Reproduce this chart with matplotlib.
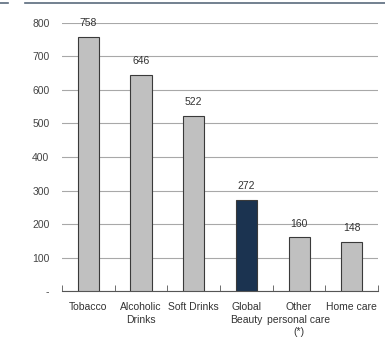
import matplotlib
matplotlib.use('Agg')
from matplotlib import pyplot as plt
import numpy as np

categories = ['Tobacco', 'Alcoholic\nDrinks', 'Soft Drinks', 'Global\nBeauty',
              'Other\npersonal care\n(*)', 'Home care']
values = [758, 646, 522, 272, 160, 148]
colors = ['#c0c0c0', '#c0c0c0', '#c0c0c0', '#1b3350', '#c0c0c0', '#c0c0c0']
yticks = [0, 100, 200, 300, 400, 500, 600, 700, 800]
ytick_labels = ['-', '100', '200', '300', '400', '500', '600', '700', '800']

plt.rcParams['font.family'] = ['Liberation Sans', 'DejaVu Sans']

fig = plt.figure(figsize=(3.85, 3.47), dpi=100)
ax = fig.add_axes([0.161, 0.161, 0.821, 0.773])

x = np.arange(len(categories))
ax.bar(x, values, width=0.4, color=colors, edgecolor='#3a3a3a', linewidth=0.8, zorder=3)
for xi, v in zip(x, values):
    ax.text(xi, v + 26, str(v), ha='center', va='bottom', fontsize=7.5,
            color='#333333', clip_on=False, zorder=4)

ax.set_xlim(-0.5, len(categories) - 0.5)
ax.set_ylim(0, 800)
ax.set_yticks(yticks)
ax.set_yticklabels(ytick_labels)
ax.yaxis.grid(True, color='#a8a8a8', linewidth=0.8, zorder=0)
ax.tick_params(axis='y', length=0, pad=9, labelsize=7.5, labelcolor='#444444')

ax.set_xticks(x)
ax.set_xticklabels(categories, fontsize=7.5, color='#333333', linespacing=1.3)
ax.set_xticks(np.arange(-0.5, len(categories)), minor=True)
ax.tick_params(axis='x', which='major', length=0, pad=8)
ax.tick_params(axis='x', which='minor', length=4, direction='in', color='#555555')

for s in ['top', 'right', 'left']:
    ax.spines[s].set_visible(False)
ax.spines['bottom'].set_color('#555555')
ax.spines['bottom'].set_linewidth(0.8)

# header rule
fig.add_artist(plt.Line2D([0.065, 1.0], [0.99, 0.99], color='#5a6b7d', linewidth=1.2))
fig.add_artist(plt.Line2D([0.0, 0.02], [0.99, 0.99], color='#5a6b7d', linewidth=1.2))

fig.savefig('out.png', dpi=100)
